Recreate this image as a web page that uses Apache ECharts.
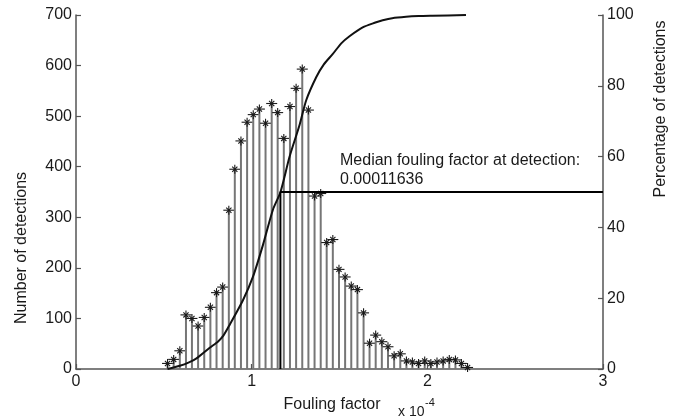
<!DOCTYPE html>
<html>
<head>
<meta charset="utf-8">
<script src="https://cdn.jsdelivr.net/npm/echarts@6/dist/echarts.min.js"></script>
<style>
html,body{margin:0;padding:0;background:#fff;}
#chart{width:675px;height:419px;}
</style>
</head>
<body>
<div id="chart"></div>
<script>
// Histogram bin centres (fouling factor, x 10^-4)
const binX = [0.521,0.556,0.591,0.626,0.660,0.695,0.730,0.765,0.800,0.835,
              0.870,0.904,0.939,0.974,1.009,1.044,1.079,1.114,1.148,1.183,
              1.218,1.253,1.288,1.323,1.358,1.393,1.427,1.462,1.497,1.532,
              1.567,1.602,1.637,1.671,1.706,1.741,1.776,1.811,1.846,1.881,
              1.915,1.950,1.985,2.020,2.055,2.090,2.125,2.160,2.194,2.229];
// Number of detections per bin
const counts = [11,19,36,107,100,85,102,122,151,162,
                314,395,451,488,503,514,486,525,507,456,
                519,555,593,512,342,347,250,256,197,182,
                164,157,111,51,67,54,44,26,30,16,
                14,11,16,11,14,16,19,18,11,3];
// Cumulative percentage curve
const curveX   = [0.521,0.591,0.640,0.686,0.761,0.809,0.840,0.875,0.951,1.007,1.064,1.121,1.164,1.216,1.273,1.311,1.368,1.410,1.462,1.510,1.557,1.632,1.700,1.746,1.800,1.879,1.950,2.030,2.220];
const curvePct = [0,    0.9,  1.8,  3,    6,    7.8,  9.5,  12.5, 19.5, 26,   35,   45,   50,   60,   69,   76,   82.5, 86,   89,   92,   94,   96.5, 97.8, 98.5, 99.1, 99.5, 99.7, 99.8, 100];
// Median marker
const medianX = 1.1636;
const medianPct = 50;
const medianText = ['Median fouling factor at detection:', '0.00011636'];
// Axis ranges / ticks
const xTicks = [0, 1, 2, 3];
const leftTicks = [0, 100, 200, 300, 400, 500, 600, 700];
const rightTicks = [0, 20, 40, 60, 80, 100];

const FONT = "'Liberation Sans', Arial, sans-serif";
const AX = '#555';
const TXT = '#1a1a1a';

const stemData = binX.map((x, i) => [x, counts[i]]);
const curveData = curveX.map((x, i) => [x, curvePct[i]]);
const medianData = [[medianX, 0], [medianX, medianPct], [xTicks[xTicks.length-1], medianPct]];

function renderStem(params, api) {
  const b = api.coord([api.value(0), 0]);
  const t = api.coord([api.value(0), api.value(1)]);
  const r = 5.5, rv = 4.5, d = 2.6;
  const st = {stroke: '#1a1a1a', lineWidth: 1.1};
  return {
    type: 'group',
    children: [
      {type: 'line', shape: {x1: b[0], y1: b[1], x2: t[0], y2: t[1]}, style: {stroke: '#767676', lineWidth: 2}},
      {type: 'line', shape: {x1: t[0]-r, y1: t[1], x2: t[0]+r, y2: t[1]}, style: st},
      {type: 'line', shape: {x1: t[0], y1: t[1]-rv, x2: t[0], y2: t[1]+rv}, style: st},
      {type: 'line', shape: {x1: t[0]-d, y1: t[1]-d, x2: t[0]+d, y2: t[1]+d}, style: st},
      {type: 'line', shape: {x1: t[0]-d, y1: t[1]+d, x2: t[0]+d, y2: t[1]-d}, style: st}
    ]
  };
}

const chart = echarts.init(document.getElementById('chart'), null, {renderer: 'canvas'});
const axisCommon = {
  axisLine: {show: true, lineStyle: {color: AX, width: 1.5}},
  axisTick: {show: true, inside: true, length: 5, lineStyle: {color: AX, width: 1.2}},
  splitLine: {show: false},
  axisLabel: {color: TXT, fontSize: 16, fontFamily: FONT, margin: 4}
};
chart.setOption({
  animation: false,
  backgroundColor: '#fff',
  grid: {left: 76, right: 72, top: 15, bottom: 50, containLabel: false},
  xAxis: Object.assign({}, axisCommon, {
    type: 'value', min: xTicks[0], max: xTicks[xTicks.length-1], interval: 1,
    axisLabel: Object.assign({}, axisCommon.axisLabel, {margin: 5})
  }),
  yAxis: [
    Object.assign({}, axisCommon, {
      type: 'value', position: 'left', min: leftTicks[0], max: leftTicks[leftTicks.length-1], interval: 100
    }),
    Object.assign({}, axisCommon, {
      type: 'value', position: 'right', min: rightTicks[0], max: rightTicks[rightTicks.length-1], interval: 20
    })
  ],
  series: [
    {type: 'custom', xAxisIndex: 0, yAxisIndex: 0, renderItem: renderStem, data: stemData, z: 2, silent: true},
    {type: 'line', xAxisIndex: 0, yAxisIndex: 1, data: curveData, showSymbol: false, smooth: 0.25,
     lineStyle: {color: '#111', width: 2}, z: 3, silent: true},
    {type: 'line', xAxisIndex: 0, yAxisIndex: 1, data: medianData, showSymbol: false,
     lineStyle: {color: '#000', width: 2}, z: 4, silent: true}
  ],
  graphic: [
    {type: 'text', left: 340, top: 153, style: {text: medianText[0], fill: TXT, font: '16px ' + FONT}},
    {type: 'text', left: 340, top: 172, style: {text: medianText[1], fill: TXT, font: '16px ' + FONT}},
    {type: 'text', x: 332, y: 405, style: {text: 'Fouling factor', fill: TXT, font: '16px ' + FONT, textAlign: 'center', textVerticalAlign: 'middle'}},
    {type: 'text', x: 398, y: 412, style: {text: 'x 10', fill: TXT, font: '14px ' + FONT, textAlign: 'left', textVerticalAlign: 'middle'}},
    {type: 'text', x: 425, y: 403, style: {text: '-4', fill: TXT, font: '11px ' + FONT, textAlign: 'left', textVerticalAlign: 'middle'}},
    {type: 'text', x: 22, y: 248, rotation: Math.PI/2, style: {text: 'Number of detections', fill: TXT, font: '16px ' + FONT, textAlign: 'center', textVerticalAlign: 'middle'}},
    {type: 'text', x: 661, y: 109, rotation: Math.PI/2, style: {text: 'Percentage of detections', fill: TXT, font: '16px ' + FONT, textAlign: 'center', textVerticalAlign: 'middle'}}
  ]
});
</script>
</body>
</html>
